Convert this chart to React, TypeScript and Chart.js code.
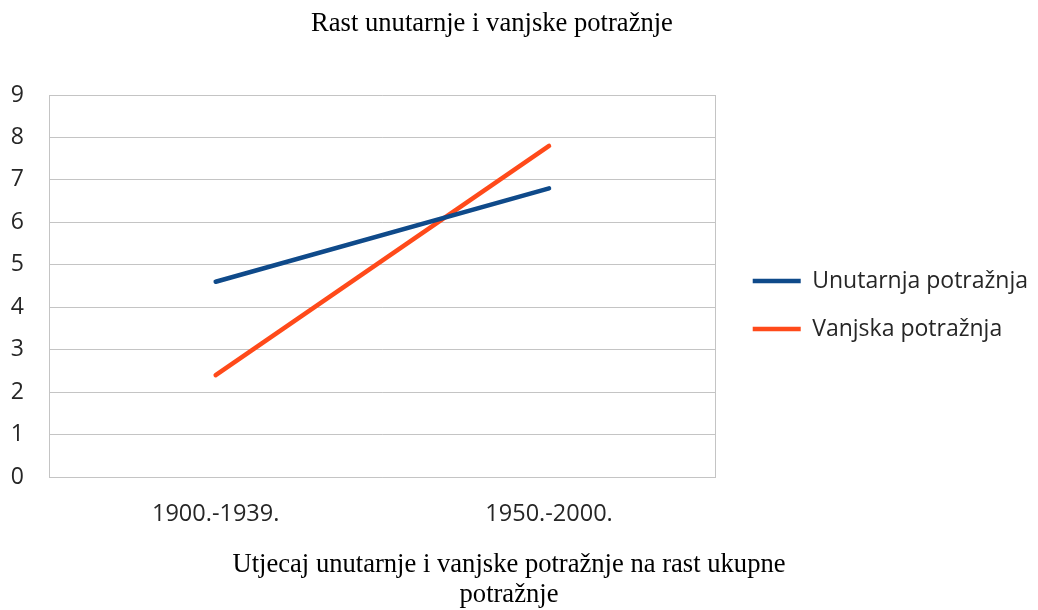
import React, { useEffect, useRef } from "react";
import { Chart, registerables } from "chart.js";

Chart.register(...registerables);

const chartTitle = "Rast unutarnje i vanjske potražnje";
const captionLines = ["Utjecaj unutarnje i vanjske potražnje na rast ukupne", "potražnje"];
const categories = ["1900.-1939.", "1950.-2000."];
const seriesNames = ["Unutarnja potražnja", "Vanjska potražnja"];
const unutarnja = [4.6, 6.8];
const vanjska = [2.4, 7.8];
const seriesColors = ["#0F4A8A", "#FF4A1A"];
const yMin = 0;
const yMax = 9;
const yStep = 1;

const gridColor = "#C4C4C4";
const textColor = "#262626";
const sansFont = "'Open Sans', sans-serif";
const serifFont = "'Liberation Serif', 'Times New Roman', serif";

export default function App() {
  const canvasRef = useRef<HTMLCanvasElement | null>(null);

  useEffect(() => {
    if (!canvasRef.current) return;
    const chart = new Chart(canvasRef.current, {
      type: "line",
      data: {
        labels: categories,
        datasets: [
          {
            label: seriesNames[0],
            data: unutarnja,
            xAxisID: "x",
            yAxisID: "y",
            borderColor: seriesColors[0],
            backgroundColor: seriesColors[0],
            borderWidth: 4.5,
            borderCapStyle: "round",
            pointRadius: 0,
            pointHoverRadius: 0,
            tension: 0,
            fill: false,
          },
          {
            label: seriesNames[1],
            data: vanjska,
            xAxisID: "x",
            yAxisID: "y",
            borderColor: seriesColors[1],
            backgroundColor: seriesColors[1],
            borderWidth: 4.5,
            borderCapStyle: "round",
            pointRadius: 0,
            pointHoverRadius: 0,
            tension: 0,
            fill: false,
          },
        ],
      },
      options: {
        animation: false,
        responsive: true,
        maintainAspectRatio: false,
        layout: { padding: { left: 11, top: 0, right: 0, bottom: 0 } },
        plugins: {
          title: { display: false },
          tooltip: { enabled: false },
          legend: {
            display: true,
            position: "right",
            align: "center",
            maxWidth: 420,
            labels: {
              usePointStyle: true,
              pointStyle: "line",
              pointStyleWidth: 48,
              boxHeight: 23,
              padding: 25,
              color: textColor,
              font: { family: sansFont, size: 23 },
            },
          },
        },
        scales: {
          x: {
            type: "category",
            offset: true,
            grid: { display: false, drawTicks: false },
            border: { display: true, color: gridColor },
            ticks: {
              padding: 23,
              color: textColor,
              font: { family: sansFont, size: 23.5 },
              maxRotation: 0,
            },
            afterFit: (s: any) => {
              s.height = 133;
            },
          },
          xTop: {
            type: "category",
            position: "top",
            grid: { display: false, drawTicks: false },
            border: { display: false },
            ticks: { display: false },
            afterFit: (s: any) => {
              s.height = 95;
            },
          },
          y: {
            min: yMin,
            max: yMax,
            grid: { color: gridColor, drawTicks: false },
            border: { display: true, color: gridColor },
            ticks: {
              stepSize: yStep,
              padding: 25,
              color: textColor,
              font: { family: sansFont, size: 23 },
            },
            afterFit: (s: any) => {
              s.width = 38;
            },
          },
          y2: {
            position: "right",
            min: yMin,
            max: yMax,
            grid: { display: false, drawTicks: false },
            border: { display: true, color: gridColor },
            ticks: { display: false },
            afterFit: (s: any) => {
              s.width = 12;
            },
          },
        },
      },
    });
    return () => chart.destroy();
  }, []);

  return (
    <div style={{ position: "fixed", left: 0, top: 0, width: 1038, height: 610, background: "#fff" }}>
      <div style={{ position: "absolute", left: 0, top: 0, width: 1038, height: 610 }}>
        <canvas ref={canvasRef} />
      </div>
      <div
        style={{
          position: "absolute",
          left: 0,
          top: 7,
          width: 984,
          textAlign: "center",
          fontFamily: serifFont,
          fontSize: 26.6,
          lineHeight: "30px",
          color: "#000",
        }}
      >
        {chartTitle}
      </div>
      <div
        style={{
          position: "absolute",
          left: 0,
          top: 548,
          width: 1018,
          textAlign: "center",
          fontFamily: serifFont,
          fontSize: 26.6,
          lineHeight: "30px",
          color: "#000",
        }}
      >
        {captionLines.map((l, i) => (
          <div key={i}>{l}</div>
        ))}
      </div>
    </div>
  );
}
